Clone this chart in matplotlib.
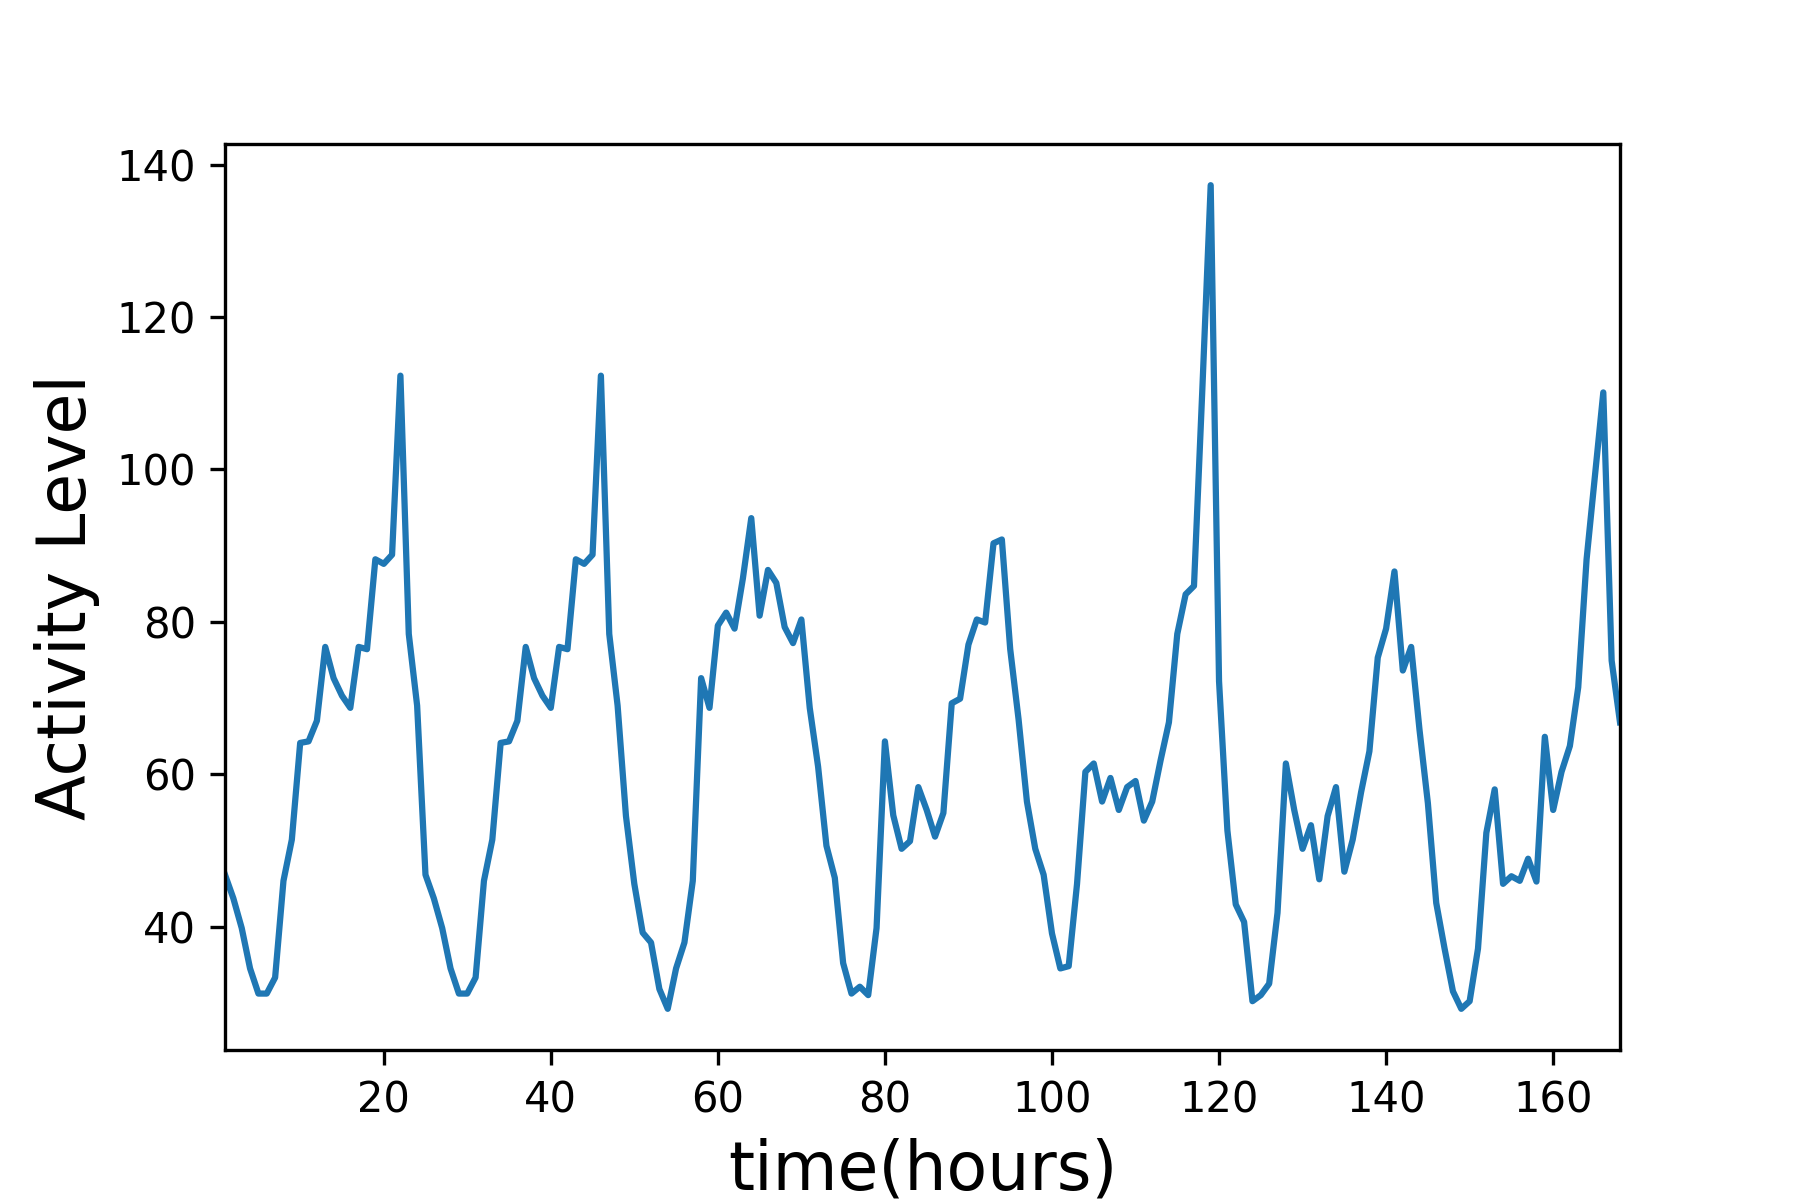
import numpy as np
import matplotlib
matplotlib.use("Agg")
import matplotlib.pyplot as plt

# hourly activity over one week
hours = np.arange(1, 169)

day1 = [46.8, 43.7, 39.8, 34.5, 31.2, 31.2, 33.3, 46.0, 51.4, 64.1,
        64.3, 67.0, 76.7, 72.6, 70.3, 68.7, 76.7, 76.4, 88.2, 87.6,
        88.8, 112.3, 78.4, 69.0]
day2 = [46.8, 43.7, 39.8, 34.5, 31.2, 31.2, 33.3, 46.0, 51.4, 64.1,
        64.3, 67.0, 76.7, 72.6, 70.3, 68.7, 76.7, 76.4, 88.2, 87.6,
        88.8, 112.3, 78.4, 69.0]
day3 = [54.5, 45.6, 39.2, 37.9, 31.8, 29.2, 34.5, 37.9, 46.0, 72.6,
        68.7, 79.5, 81.2, 79.1, 85.7, 93.6, 80.8, 86.8, 85.1, 79.3,
        77.2, 80.3, 68.7, 61.0]
day4 = [50.6, 46.4, 35.2, 31.2, 32.1, 31.0, 39.8, 64.3, 54.6, 50.2,
        51.2, 58.3, 55.3, 51.8, 54.9, 69.3, 69.9, 77.0, 80.3, 79.9,
        90.3, 90.8, 76.4, 67.2]
day5 = [56.4, 50.2, 46.8, 39.1, 34.5, 34.8, 45.6, 60.3, 61.4, 56.4,
        59.5, 55.3, 58.3, 59.1, 53.9, 56.4, 61.8, 66.8, 78.4, 83.6,
        84.7, 110.5, 137.3, 72.2]
day6 = [52.6, 42.9, 40.6, 30.2, 31.0, 32.5, 41.8, 61.4, 55.3, 50.2,
        53.3, 46.2, 54.5, 58.3, 47.2, 51.4, 57.6, 63.0, 75.3, 79.1,
        86.6, 73.6, 76.7, 65.8]
day7 = [56.2, 43.1, 37.1, 31.5, 29.2, 30.2, 37.1, 52.3, 58.0, 45.6,
        46.6, 46.0, 48.9, 45.9, 64.9, 55.3, 60.3, 63.7, 71.4, 88.2,
        99.2, 110.1, 74.9, 66.8]

activity = np.array(day1 + day2 + day3 + day4 + day5 + day6 + day7)

fig = plt.figure(figsize=(6, 4), dpi=300)
ax = fig.add_axes([0.125, 0.125, 0.775, 0.755])
ax.plot(hours, activity, color="#1f77b4", linewidth=1.5)
ax.set_xlim(1, 168)
ax.set_xlabel("time(hours)", fontsize=16)
ax.set_ylabel("Activity Level", fontsize=16)

fig.savefig("out.png", dpi=300)
